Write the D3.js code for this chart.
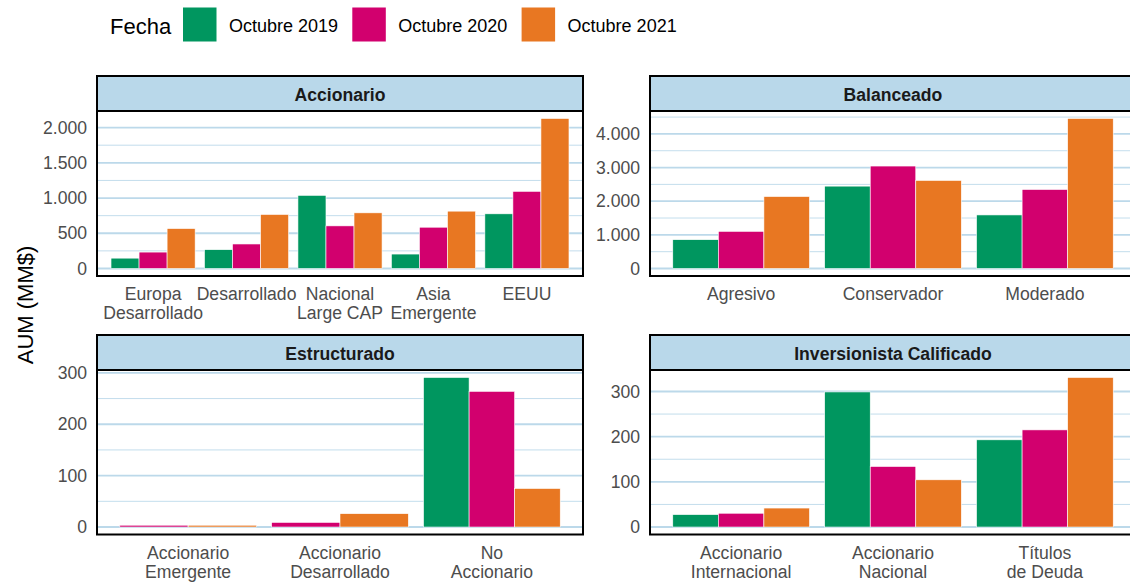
<!DOCTYPE html>
<html>
<head>
<meta charset="utf-8">
<script src="https://cdn.jsdelivr.net/npm/d3@7"></script>
<style>
  body { margin: 0; background: #fff; overflow: hidden; }
  text { font-family: "Liberation Sans", Arial, sans-serif; }
</style>
</head>
<body>
<div id="chart"></div>
<script>
// ---- data (AUM MM$) ----
const series = ["Octubre 2019", "Octubre 2020", "Octubre 2021"];
const colors = ["#00965f", "#d2006e", "#e87722"];

const accionarioCats = ["Europa\nDesarrollado", "Desarrollado", "Nacional\nLarge CAP", "Asia\nEmergente", "EEUU"];
const accionario2019 = [147, 267, 1038, 205, 776];
const accionario2020 = [233, 348, 605, 586, 1095];
const accionario2021 = [567, 767, 790, 814, 2129];

const balanceadoCats = ["Agresivo", "Conservador", "Moderado"];
const balanceado2019 = [856, 2448, 1592];
const balanceado2020 = [1104, 3045, 2348];
const balanceado2021 = [2139, 2617, 4458];

const estructuradoCats = ["Accionario\nEmergente", "Accionario\nDesarrollado", "No\nAccionario"];
const estructurado2019 = [null, null, 291];
const estructurado2020 = [3.5, 9, 264];
const estructurado2021 = [3.5, 26, 75];

const calificadoCats = ["Accionario\nInternacional", "Accionario\nNacional", "Títulos\nde Deuda"];
const calificado2019 = [27.5, 299, 193];
const calificado2020 = [30.5, 134, 215];
const calificado2021 = [42, 104.5, 331];

const panels = [
  {title: "Accionario", cats: accionarioCats, vals: [accionario2019, accionario2020, accionario2021], col: 0, row: 0},
  {title: "Balanceado", cats: balanceadoCats, vals: [balanceado2019, balanceado2020, balanceado2021], col: 1, row: 0},
  {title: "Estructurado", cats: estructuradoCats, vals: [estructurado2019, estructurado2020, estructurado2021], col: 0, row: 1},
  {title: "Inversionista Calificado", cats: calificadoCats, vals: [calificado2019, calificado2020, calificado2021], col: 1, row: 1}
];

// ---- layout ----
const svgWidth = 1130, svgHeight = 582;
const colX = [97, 650];
const panelW = 486;
const stripTop = [76, 335];
const stripH = 35;
const panelH = [165, 164.5];

const gridCol = "#bcd9ea";
const stripCol = "#b9d8ea";
const textGrey = "#4d4d4d";

const fmt = d3.formatLocale({decimal: ",", thousands: ".", grouping: [3], currency: ["$", ""]}).format(",d");

const svg = d3.select("#chart").append("svg")
  .attr("width", svgWidth)
  .attr("height", svgHeight);

// ---- legend ----
const legend = svg.append("g");
legend.append("text")
  .attr("x", 110).attr("y", 33.5)
  .attr("font-size", 22).attr("fill", "#000")
  .text("Fecha");
series.forEach((s, i) => {
  const lx = 183 + i * 169.3;
  legend.append("rect")
    .attr("x", lx).attr("y", 7.5)
    .attr("width", 33.5).attr("height", 34)
    .attr("fill", colors[i]);
  legend.append("text")
    .attr("x", lx + 46).attr("y", 31.5)
    .attr("font-size", 18).attr("fill", "#000")
    .text(s);
});

// ---- y axis title ----
svg.append("text")
  .attr("transform", "translate(25,305) rotate(-90)")
  .attr("text-anchor", "middle")
  .attr("dominant-baseline", "central")
  .attr("font-size", 22)
  .attr("fill", "#000")
  .text("AUM (MM$)");

// ---- panels ----
panels.forEach(p => {
  const x0 = colX[p.col];
  const sTop = stripTop[p.row];
  const pTop = sTop + stripH;
  const pH = panelH[p.row];
  const pBot = pTop + pH;

  let vmax = 0;
  p.vals.forEach(arr => arr.forEach(v => { if (v != null && v > vmax) vmax = v; }));
  const yScale = d3.scaleLinear()
    .domain([-vmax * 0.05, vmax * 1.05])
    .range([pBot, pTop]);

  const xBand = d3.scaleBand()
    .domain(p.cats)
    .range([x0, x0 + panelW])
    .paddingInner(0.1)
    .paddingOuter(0.15);

  const g = svg.append("g");

  // panel background
  g.append("rect")
    .attr("x", x0).attr("y", pTop)
    .attr("width", panelW).attr("height", pH)
    .attr("fill", "#fff");

  // grid
  const major = yScale.ticks(4);
  const step = major[1] - major[0];
  const minor = [];
  for (let v = major[0] - step / 2; v <= yScale.domain()[1]; v += step) {
    if (v >= yScale.domain()[0]) minor.push(v);
  }
  g.selectAll(".minor").data(minor).enter().append("line")
    .attr("x1", x0).attr("x2", x0 + panelW)
    .attr("y1", d => yScale(d)).attr("y2", d => yScale(d))
    .attr("stroke", gridCol).attr("stroke-width", 0.9);
  g.selectAll(".major").data(major).enter().append("line")
    .attr("x1", x0).attr("x2", x0 + panelW)
    .attr("y1", d => yScale(d)).attr("y2", d => yScale(d))
    .attr("stroke", gridCol).attr("stroke-width", 1.8);

  // bars (dodge: missing series leave the rest to share the group width)
  p.cats.forEach((c, ci) => {
    const present = series.filter((s, si) => p.vals[si][ci] != null);
    const sub = d3.scaleBand().domain(present).range([0, xBand.bandwidth()]);
    const rows = present.map(s => ({s: s, v: p.vals[series.indexOf(s)][ci]}));
    g.selectAll(null).data(rows).enter().append("rect")
      .attr("x", d => xBand(c) + sub(d.s))
      .attr("width", sub.bandwidth())
      .attr("y", d => yScale(d.v))
      .attr("height", d => yScale(0) - yScale(d.v))
      .attr("fill", d => colors[series.indexOf(d.s)])
      .attr("stroke", "#fff")
      .attr("stroke-width", 0.6);
  });

  // strip
  g.append("rect")
    .attr("x", x0).attr("y", sTop)
    .attr("width", panelW).attr("height", stripH)
    .attr("fill", stripCol)
    .attr("stroke", "#000").attr("stroke-width", 2);
  g.append("text")
    .attr("x", x0 + panelW / 2).attr("y", sTop + stripH / 2 + 1)
    .attr("text-anchor", "middle")
    .attr("dominant-baseline", "central")
    .attr("font-size", 17.6).attr("font-weight", "bold")
    .attr("fill", "#1a1a1a")
    .text(p.title);

  // panel border
  g.append("rect")
    .attr("x", x0).attr("y", pTop)
    .attr("width", panelW).attr("height", pH)
    .attr("fill", "none")
    .attr("stroke", "#000").attr("stroke-width", 2);

  // y axis
  const gy = g.append("g")
    .attr("transform", `translate(${x0},0)`)
    .call(d3.axisLeft(yScale).ticks(4).tickFormat(fmt).tickSize(0).tickPadding(10));
  gy.select(".domain").remove();
  gy.selectAll("text")
    .attr("font-size", 17.6)
    .attr("font-family", "'Liberation Sans', Arial, sans-serif")
    .attr("fill", textGrey);

  // x axis with two-line labels
  const gx = g.append("g")
    .attr("transform", `translate(0,${pBot})`)
    .call(d3.axisBottom(xBand).tickSize(0));
  gx.select(".domain").remove();
  gx.selectAll("text").each(function(d) {
    const t = d3.select(this);
    t.text(null).attr("dy", null).attr("y", 0)
      .attr("font-size", 17.6)
      .attr("font-family", "'Liberation Sans', Arial, sans-serif")
      .attr("fill", textGrey);
    d.split("\n").forEach((line, li) => {
      t.append("tspan")
        .attr("x", 0)
        .attr("y", 24 + li * 19)
        .text(line);
    });
  });
});
</script>
</body>
</html>
